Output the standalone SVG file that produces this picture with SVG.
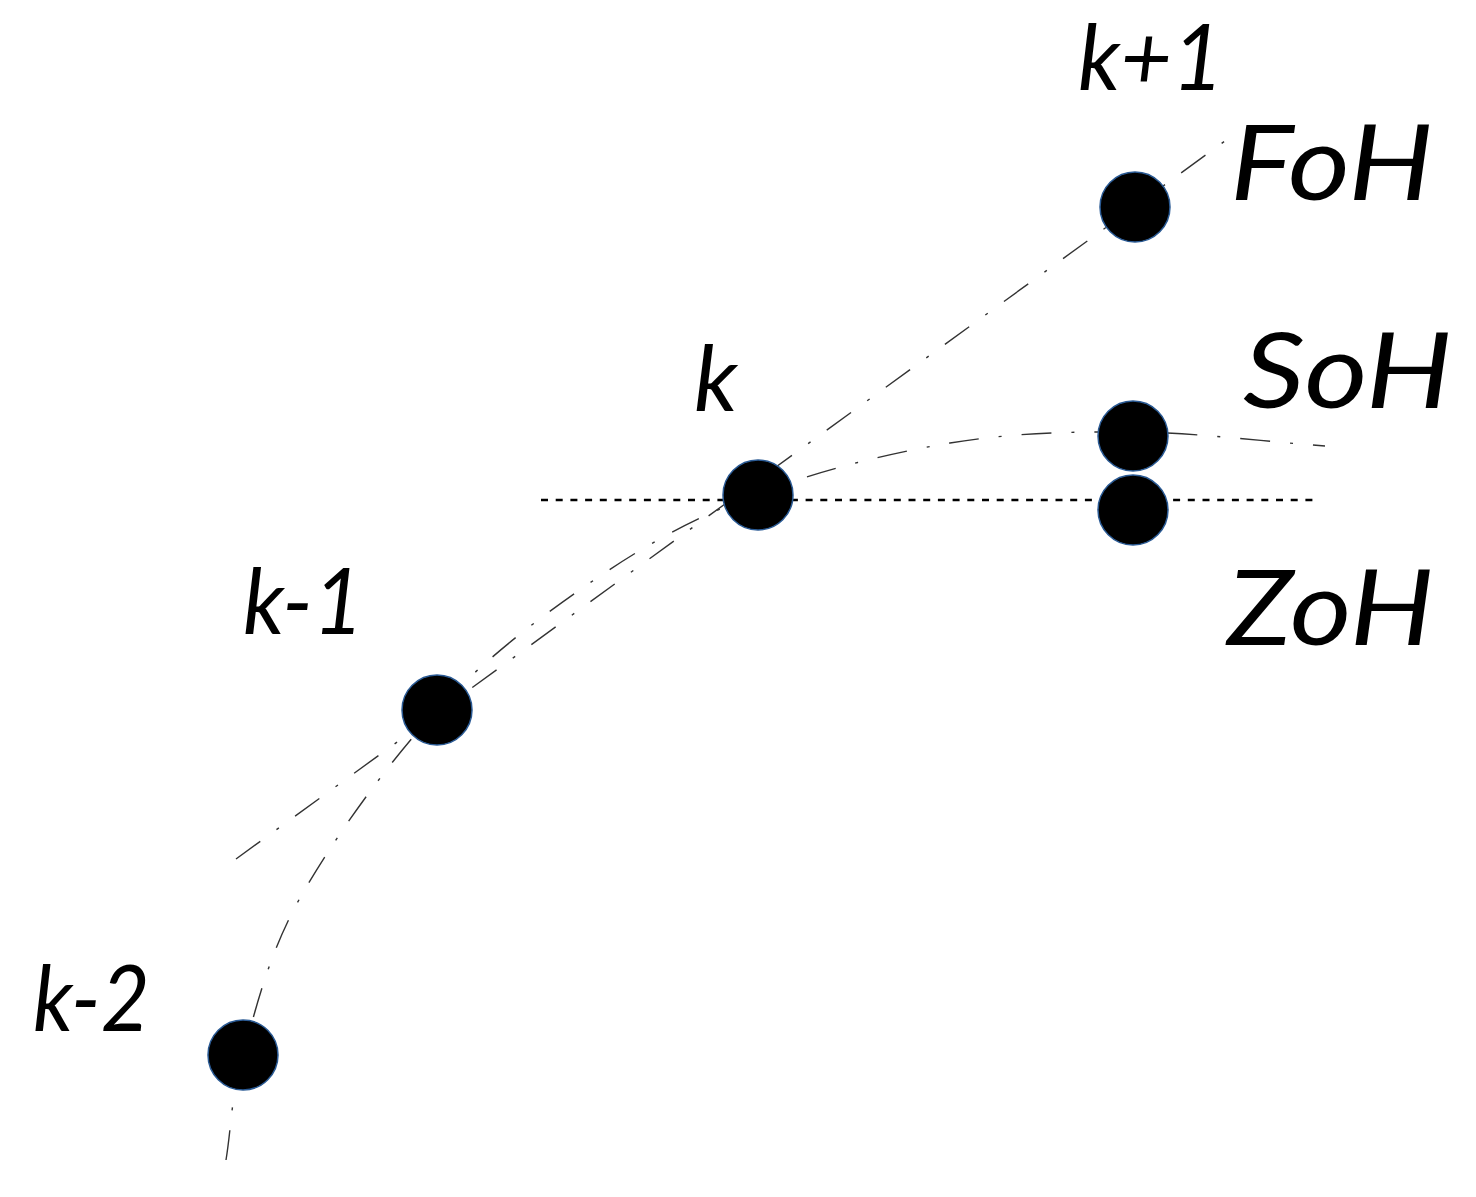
<svg xmlns="http://www.w3.org/2000/svg" width="1476" height="1197" viewBox="0 0 1476 1197">
<style>
.pt{fill:#000;stroke:#2a5a94;stroke-width:1.5}
.lbl{font-family:Lato,"Open Sans","DejaVu Sans",sans-serif;font-style:italic;font-weight:400;fill:#000}
.lk{font-size:92px}
.lh{font-size:104px}
.dd{fill:none;stroke:#333;stroke-width:1.4;stroke-dasharray:30 20 3 20}
.zoh{fill:none;stroke:#000;stroke-width:2.6;stroke-dasharray:7 7.7}
</style>
<rect width="1476" height="1197" fill="#fff"/>
<g id="connectors">
<path id="soh-curve" class="dd" d="M226,1160 C231.7,1125 230.7,1098.7 243,1055 C255.3,1011.3 267.7,955.5 300,898 C332.3,840.5 387,763.7 437,710 C487,656.3 546.7,612 600,576 C653.3,540 698.7,516.2 757,494 C815.3,471.8 887.3,453.3 950,443 C1012.7,432.7 1070.5,431.5 1133,432 C1195.5,432.5 1261,441.3 1325,446"/>
<path id="foh-line" class="dd" d="M236,859 L1225,141"/>
<path id="zoh-line" class="zoh" d="M541,500 L1320,500"/>
</g>
<g id="node-k-2">
<circle class="pt" cx="243" cy="1055" r="35"/>
<text class="lbl lk" transform="translate(33,1031) scale(0.92,1)">k-2</text>
</g>
<g id="node-k-1">
<circle class="pt" cx="437" cy="710" r="35"/>
<text class="lbl lk" transform="translate(243,634) scale(0.95,1)">k-1</text>
</g>
<g id="node-k">
<circle class="pt" cx="758" cy="495" r="35"/>
<text class="lbl lk" x="694" y="411">k</text>
</g>
<g id="node-k+1">
<circle class="pt" cx="1135" cy="207" r="35"/>
<text class="lbl lk" transform="translate(1078,90) scale(0.97,1)">k+1</text>
<text class="lbl lh" transform="translate(1230,200) scale(1.15,1)">FoH</text>
</g>
<g id="node-soh">
<circle class="pt" cx="1133" cy="436" r="35"/>
<text class="lbl lh" transform="translate(1243,408) scale(1.17,1)">SoH</text>
</g>
<g id="node-zoh">
<circle class="pt" cx="1133" cy="510" r="35"/>
<text class="lbl lh" transform="translate(1227,645) scale(1.14,1)">ZoH</text>
</g>
</svg>
